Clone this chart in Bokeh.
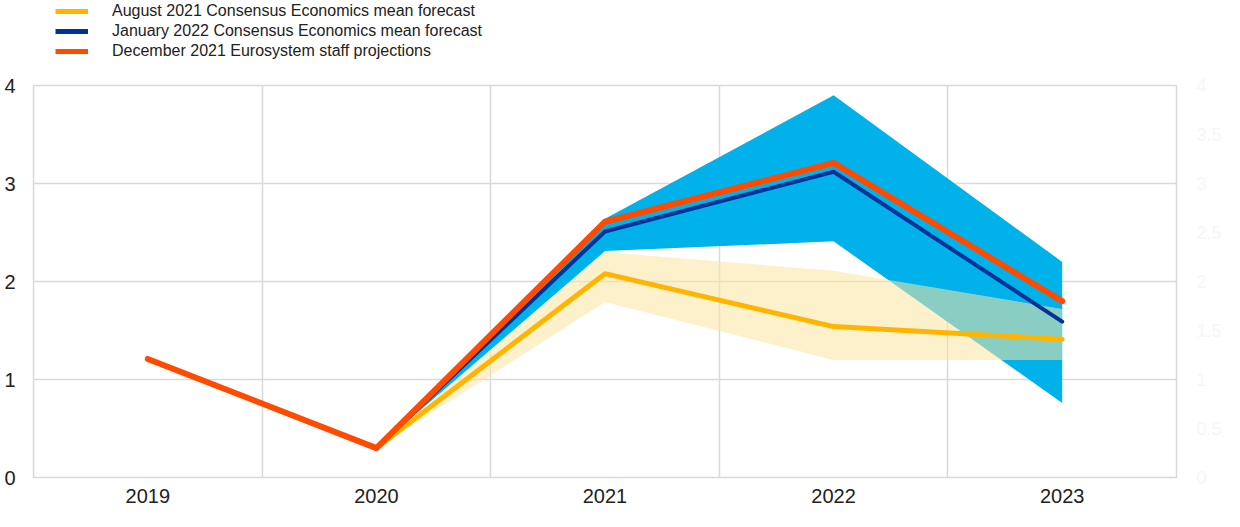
from bokeh.plotting import figure
from bokeh.layouts import column
from bokeh.models import FixedTicker, Legend, LegendItem, LinearAxis
from bokeh.embed import file_html
from bokeh.resources import INLINE

# ---- data -------------------------------------------------------------
years = ["2019", "2020", "2021", "2022", "2023"]
eurosystem_dec21 = [1.21, 0.30, 2.61, 3.21, 1.80]
consensus_jan22 = [None, 0.30, 2.51, 3.12, 1.59]
consensus_aug21 = [None, 0.30, 2.08, 1.54, 1.41]
jan22_low = [None, 0.30, 2.31, 2.41, 0.76]
jan22_high = [None, 0.30, 2.64, 3.90, 2.20]
aug21_low = [None, 0.30, 1.79, 1.20, 1.20]
aug21_high = [None, 0.30, 2.30, 2.11, 1.72]
y_ticks = [0, 1, 2, 3, 4]
right_ticks = [0, 0.5, 1, 1.5, 2, 2.5, 3, 3.5, 4]
right_labels = ["0", "0.5", "1", "1.5", "2", "2.5", "3", "3.5", "4"]
labels = [
    "August 2021 Consensus Economics mean forecast",
    "January 2022 Consensus Economics mean forecast",
    "December 2021 Eurosystem staff projections",
]

# ---- helpers ----------------------------------------------------------
xpos = [i + 0.5 for i in range(len(years))]
bounds = list(range(len(years) + 1))


def valid(*series):
    idx = [i for i in range(len(years)) if all(s[i] is not None for s in series)]
    return [xpos[i] for i in idx], [[s[i] for i in idx] for s in series]


FONT = "Liberation Sans"
TXT = "#222222"
GRID = "#D9D9D9"
C_AUG, C_JAN, C_DEC = "#FFB400", "#003299", "#FF4B00"
W_AUG, W_JAN, W_DEC = 5, 4, 6

LEG_H = 70
p = figure(width=1224, height=511 - LEG_H, x_range=(0, len(years)), y_range=(0, 4),
           output_backend="svg", toolbar_location=None,
           min_border_left=33, min_border_right=47,
           min_border_top=85 - LEG_H, min_border_bottom=34)

p.background_fill_color = "white"
p.border_fill_color = "white"
p.outline_line_color = GRID
p.outline_line_width = 1.5

# axes
p.xaxis.ticker = FixedTicker(ticks=xpos)
p.xaxis.major_label_overrides = {x: y for x, y in zip(xpos, years)}
p.yaxis.ticker = FixedTicker(ticks=y_ticks)
for ax in (p.xaxis[0], p.yaxis[0]):
    ax.axis_line_color = None
    ax.major_tick_line_color = None
    ax.minor_tick_line_color = None
    ax.major_tick_out = 0
    ax.major_tick_in = 0
    ax.major_label_text_font = FONT
    ax.major_label_text_font_size = "20px"
    ax.major_label_text_color = TXT
p.xaxis.major_label_standoff = 11
p.yaxis.major_label_standoff = 18

right = LinearAxis(ticker=FixedTicker(ticks=right_ticks),
                   major_label_overrides={t: l for t, l in zip(right_ticks, right_labels)},
                   axis_line_color=None, major_tick_line_color=None,
                   minor_tick_line_color=None, major_tick_out=0, major_tick_in=0,
                   major_label_text_font=FONT, major_label_text_font_size="18px",
                   major_label_text_color="#F6F6F6", major_label_standoff=20)
p.add_layout(right, "right")

# grid
p.xgrid.ticker = FixedTicker(ticks=bounds)
p.ygrid.ticker = FixedTicker(ticks=y_ticks)
p.xgrid.grid_line_color = GRID
p.ygrid.grid_line_color = GRID
p.xgrid.grid_line_width = 1.5
p.ygrid.grid_line_width = 1.5

# bands
bx, (bl, bh) = valid(jan22_low, jan22_high)
p.varea(x=bx, y1=bl, y2=bh, fill_color="#00B1EA")
ax_, (al, ah) = valid(aug21_low, aug21_high)
p.varea(x=ax_, y1=al, y2=ah, fill_color=(251, 230, 162), fill_alpha=0.55)

# lines
x1, (y1,) = valid(consensus_aug21)
p.line(x1, y1, line_color=C_AUG, line_width=W_AUG, line_cap="round", line_join="round")
x2, (y2,) = valid(consensus_jan22)
p.line(x2, y2, line_color=C_JAN, line_width=W_JAN, line_cap="round", line_join="round")
x3, (y3,) = valid(eurosystem_dec21)
p.line(x3, y3, line_color=C_DEC, line_width=W_DEC, line_cap="round", line_join="round")

# ---- legend strip above the chart (frames are aligned by the column) --
nan = float("nan")
lf = figure(width=1224, height=LEG_H, x_range=(0, 1), y_range=(0, 1),
            output_backend="svg", toolbar_location=None,
            x_axis_location=None, y_axis_location=None, min_border=0)
lf.grid.visible = False
lf.outline_line_color = None
lf.background_fill_color = "white"
lf.border_fill_color = "white"
l_aug = lf.line(x=[nan, nan], y=[nan, nan], line_color=C_AUG, line_width=5)
l_jan = lf.line(x=[nan, nan], y=[nan, nan], line_color=C_JAN, line_width=5)
l_dec = lf.line(x=[nan, nan], y=[nan, nan], line_color=C_DEC, line_width=5)

legend = Legend(items=[LegendItem(label=labels[0], renderers=[l_aug]),
                       LegendItem(label=labels[1], renderers=[l_jan]),
                       LegendItem(label=labels[2], renderers=[l_dec])],
                location=(22, LEG_H - 61), orientation="vertical",
                background_fill_alpha=0, border_line_alpha=0,
                padding=0, margin=0, spacing=0,
                label_height=20, glyph_height=20, glyph_width=33,
                label_standoff=24, label_text_font=FONT,
                label_text_font_size="16px", label_text_color=TXT)
lf.add_layout(legend)

layout = column(lf, p, spacing=0)
open("out.html", "w").write(file_html(layout, INLINE))
